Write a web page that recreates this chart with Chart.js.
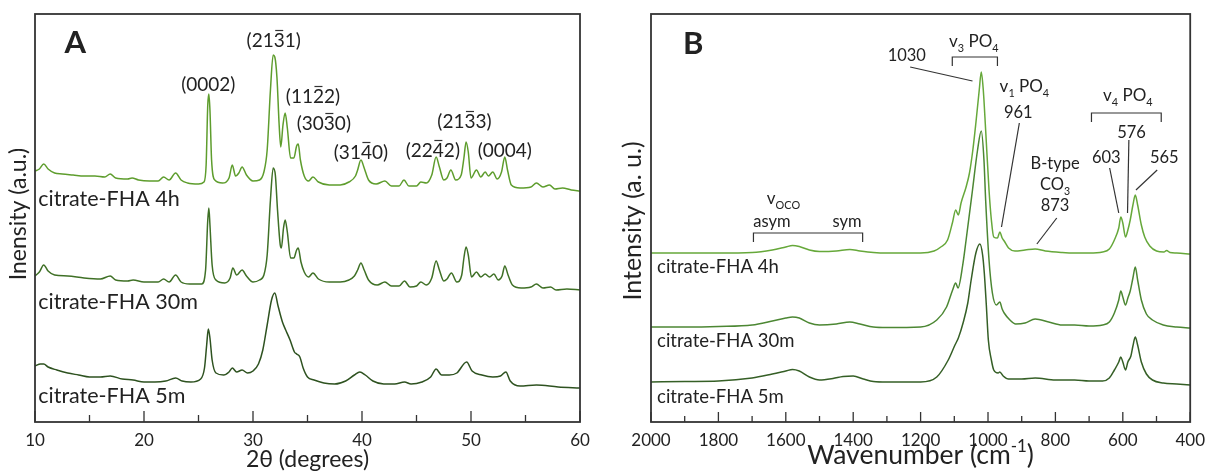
<!DOCTYPE html>
<html lang="en">
<head>
<meta charset="UTF-8">
<title>citrate-FHA XRD and FTIR</title>
<script src="https://cdn.jsdelivr.net/npm/chart.js"></script>
<style>
  body { margin: 0; background: #fff; }
  .wrap { position: relative; width: 1213px; height: 473px; }
  #xrd { position: absolute; left: 0; top: 0; }
  #ftir { position: absolute; left: 600px; top: 0; }
</style>
</head>
<body>
<div class="wrap">
  <canvas id="xrd" width="600" height="473"></canvas>
  <canvas id="ftir" width="613" height="473"></canvas>
</div>
<script>
// ---- panel A: XRD (2theta in degrees, intensity in a.u., traces offset) ----
const xrd4hAngle = [10.0, 10.4, 10.8, 11.2, 11.8, 12.5, 13.5, 14.5, 15.5, 16.4, 16.9, 17.4, 18.5, 18.9, 19.5, 20.5, 21.3, 21.8, 22.3, 22.9, 23.4, 24.0, 25.0, 25.5, 25.7, 25.85, 25.95, 26.05, 26.2, 26.5, 27.2, 27.8, 28.1, 28.4, 28.7, 29.0, 29.4, 30.0, 30.6, 31.0, 31.3, 31.6, 31.85, 32.0, 32.2, 32.4, 32.55, 32.75, 32.95, 33.15, 33.45, 33.75, 34.0, 34.15, 34.35, 34.7, 35.1, 35.5, 36.0, 37.0, 38.0, 38.8, 39.4, 39.6, 39.9, 40.2, 40.6, 41.3, 42.1, 42.7, 43.4, 43.85, 44.3, 45.0, 45.4, 45.9, 46.4, 46.8, 47.1, 47.5, 47.8, 48.15, 48.6, 49.1, 49.35, 49.55, 49.75, 50.0, 50.5, 50.9, 51.3, 51.6, 52.0, 52.4, 52.8, 53.1, 53.35, 53.7, 54.5, 55.5, 56.0, 56.6, 57.2, 57.7, 58.4, 59.2, 60.0];
const xrd4hCounts = [251, 253, 258, 253, 249, 248, 247, 246, 246, 245, 248, 244, 243, 244, 242, 241, 241, 245, 242, 249, 242, 239, 238, 240, 257, 317, 328, 312, 262, 242, 239, 244, 257, 246, 249, 255, 247, 241, 242, 250, 272, 332, 367, 365, 344, 297, 275, 297, 309, 294, 264, 264, 276, 278, 262, 246, 241, 245, 240, 237, 237, 240, 246, 252, 262, 254, 242, 238, 241, 236, 236, 242, 236, 236, 240, 239, 247, 265, 255, 242, 244, 252, 242, 247, 264, 280, 270, 244, 252, 245, 250, 246, 250, 243, 250, 265, 252, 237, 234, 235, 239, 235, 237, 233, 234, 232, 231];

const xrd30mAngle = [10.0, 10.4, 10.8, 11.2, 11.8, 13.0, 14.5, 16.0, 16.9, 17.4, 18.5, 19.0, 20.0, 21.3, 21.8, 22.3, 22.9, 23.4, 24.2, 25.3, 25.65, 25.85, 25.95, 26.05, 26.25, 26.6, 27.4, 27.9, 28.15, 28.5, 29.0, 29.4, 30.0, 30.6, 31.0, 31.3, 31.6, 31.85, 32.05, 32.25, 32.5, 32.6, 32.8, 32.95, 33.15, 33.45, 33.75, 34.0, 34.15, 34.4, 34.7, 35.1, 35.5, 36.0, 37.0, 38.0, 38.8, 39.3, 39.6, 39.9, 40.2, 40.6, 41.4, 42.1, 42.7, 43.4, 43.9, 44.4, 45.0, 45.4, 45.9, 46.4, 46.8, 47.1, 47.5, 47.8, 48.2, 48.7, 49.15, 49.35, 49.55, 49.75, 50.05, 50.5, 50.9, 51.3, 51.7, 52.1, 52.5, 52.85, 53.1, 53.4, 53.8, 54.6, 55.5, 56.0, 56.6, 57.3, 57.8, 58.8, 60.0];
const xrd30mCounts = [146, 150, 157, 151, 147, 146, 144, 143, 146, 142, 141, 142, 140, 140, 143, 140, 147, 140, 138, 138, 152, 202, 214, 197, 157, 142, 139, 144, 154, 147, 152, 146, 140, 142, 147, 167, 222, 254, 247, 212, 177, 174, 194, 202, 190, 164, 164, 172, 174, 160, 150, 145, 149, 143, 140, 140, 142, 146, 152, 159, 152, 142, 137, 140, 136, 136, 141, 135, 136, 140, 137, 144, 161, 152, 141, 143, 149, 140, 147, 164, 175, 167, 145, 150, 145, 148, 145, 148, 142, 146, 156, 147, 137, 134, 135, 138, 134, 135, 132, 133, 132];

const xrd5mAngle = [10.0, 10.5, 10.8, 11.2, 12.0, 13.0, 14.0, 15.0, 16.0, 16.9, 18.0, 19.0, 20.0, 21.0, 22.0, 22.9, 23.5, 24.3, 25.2, 25.55, 25.75, 25.9, 26.05, 26.25, 26.6, 27.3, 27.8, 28.1, 28.5, 29.0, 29.5, 30.0, 30.5, 30.9, 31.3, 31.7, 32.0, 32.3, 32.7, 33.0, 33.4, 33.8, 34.0, 34.3, 34.6, 35.0, 35.6, 36.5, 37.5, 38.5, 39.3, 39.8, 40.3, 41.0, 42.0, 43.0, 43.9, 44.5, 45.5, 46.3, 46.8, 47.3, 48.0, 48.7, 49.6, 50.1, 51.0, 52.0, 52.7, 53.2, 53.6, 54.5, 56.0, 58.0, 60.0];
const xrd5mCounts = [56, 58, 58, 55, 52, 49, 47, 45, 45, 46, 43, 42, 40, 40, 41, 44, 41, 40, 43, 54, 77, 93, 84, 62, 49, 47, 50, 54, 50, 52, 49, 51, 58, 72, 97, 122, 129, 116, 100, 92, 82, 70, 68, 65, 54, 45, 42, 39, 38, 41, 47, 50, 47, 41, 38, 38, 40, 38, 40, 45, 53, 47, 47, 49, 60, 51, 47, 45, 46, 50, 41, 36, 37, 35, 34];

const xrdTicks = [10, 20, 30, 40, 50, 60];
const xrdMinorTicks = [15, 25, 35, 45, 55];

// ---- panel B: FTIR (wavenumber in cm-1, intensity in a.u., traces offset) ----
const ftir4hWave = [2000, 1900, 1800, 1700, 1640, 1600, 1580, 1560, 1530, 1500, 1450, 1410, 1380, 1340, 1300, 1200, 1160, 1140, 1120, 1105, 1096, 1088, 1080, 1065, 1055, 1045, 1036, 1026, 1020, 1014, 1007, 997, 990, 983, 972, 965, 958, 952, 939, 920, 890, 860, 830, 780, 743, 700, 660, 640, 625, 612, 606, 600, 592, 585, 578, 570, 563, 556, 545, 535, 520, 500, 478, 470, 460, 440, 400];
const ftir4hAbs = [169, 169, 169, 169.5, 172, 175, 176.5, 175.5, 172, 170.5, 171, 172.5, 171, 169.5, 169, 169, 171, 175, 182, 200, 212, 207, 219, 235, 249, 272, 299, 332, 350, 332, 292, 232, 202, 185, 184, 190, 184, 181, 174, 171, 172, 173, 171, 169.5, 169, 169, 170, 173, 182, 194, 205, 199, 185, 192, 202, 217, 227, 217, 197, 185, 176, 171, 170, 171.5, 169.5, 169, 168];

const ftir30mWave = [2000, 1900, 1800, 1700, 1640, 1600, 1580, 1560, 1530, 1500, 1450, 1410, 1380, 1340, 1300, 1200, 1152, 1123, 1105, 1096, 1089, 1075, 1065, 1046, 1031, 1020, 1012, 1007, 997, 987, 975, 965, 958, 952, 935, 918, 890, 860, 820, 780, 743, 700, 660, 640, 625, 612, 606, 600, 592, 585, 578, 570, 563, 556, 545, 530, 512, 480, 440, 400];
const ftir30mAbs = [95, 95, 95.5, 97, 101, 104, 105, 104, 99, 97, 98, 100, 98, 95, 94.5, 95, 102, 115, 132, 139, 134, 157, 182, 232, 272, 291, 262, 222, 162, 129, 117, 120, 113, 109, 102, 98, 99, 103, 100, 97, 97, 96, 97, 100, 109, 122, 131, 125, 117, 124, 131, 144, 155, 142, 122, 108, 102, 97, 95, 94];

const ftir5mWave = [2000, 1900, 1800, 1700, 1640, 1600, 1580, 1560, 1530, 1500, 1460, 1430, 1400, 1370, 1340, 1300, 1200, 1152, 1118, 1098, 1088, 1074, 1060, 1050, 1036, 1024, 1016, 1011, 1005, 999, 990, 983, 970, 965, 955, 939, 900, 860, 800, 743, 700, 660, 640, 625, 612, 606, 600, 592, 585, 576, 570, 563, 556, 545, 530, 512, 480, 440, 400];
const ftir5mAbs = [40, 40.5, 41, 44, 48, 51, 52.5, 51, 45, 42, 43.5, 45.5, 46, 43, 40.5, 40, 40, 45, 62, 77, 84, 99, 119, 142, 169, 178, 167, 149, 117, 82, 62, 52, 49, 50, 46, 43, 43, 44, 42, 42, 41, 41, 44, 52, 60, 65, 60, 52, 60, 66, 76, 85, 77, 60, 48, 42, 39, 38, 37];

const ftirTicks = [2000, 1800, 1600, 1400, 1200, 1000, 800, 600, 400];
const ftirMinorTicks = [1900, 1700, 1500, 1300, 1100, 900, 700, 500];

const FONT = 'Lato, "DejaVu Sans", sans-serif';
const INK = '#222';

function pts(xs, ys) {
  return xs.map((x, i) => ({ x: x, y: ys[i] }));
}

// text with optional subscript / superscript / overbar pieces
function drawRich(ctx, segs, x, cy, size, align, weight) {
  const small = size * 0.64;
  let w = 0;
  const parts = segs.map(([t, k]) => {
    const fs = (k === 'sub' || k === 'sup') ? small : size;
    ctx.font = (weight || '') + ' ' + fs + 'px ' + FONT;
    const pw = ctx.measureText(t).width;
    w += pw;
    return { t, k, fs, pw };
  });
  let px = align === 'left' ? x : x - w / 2;
  const base = cy + size * 0.36;
  ctx.textAlign = 'left';
  ctx.textBaseline = 'alphabetic';
  parts.forEach(p => {
    ctx.font = (weight || '') + ' ' + p.fs + 'px ' + FONT;
    let by = base;
    if (p.k === 'sub') by = base + size * 0.3;
    if (p.k === 'sup') by = base - size * 0.42;
    ctx.fillText(p.t, px, by);
    if (p.k === 'bar') {
      const ly = base - size * 0.86;
      ctx.beginPath();
      ctx.moveTo(px + 1.5, ly);
      ctx.lineTo(px + p.pw - 1.5, ly);
      ctx.lineWidth = 1.2;
      ctx.stroke();
    }
    px += p.pw;
  });
}

function panelPlugin(cfg) {
  return {
    id: 'panel',
    afterDraw(chart) {
      const { ctx, chartArea: a, scales } = chart;
      const sx = scales.x, sy = scales.y;
      const X = v => sx.getPixelForValue(v);
      const Y = v => sy.getPixelForValue(v);
      ctx.save();
      ctx.fillStyle = INK;
      ctx.strokeStyle = '#333';

      // frame
      ctx.lineWidth = 1.8;
      ctx.strokeRect(a.left, a.top, a.right - a.left, a.bottom - a.top);

      // inward tick marks
      ctx.lineWidth = 1.3;
      ctx.beginPath();
      cfg.major.forEach(v => { ctx.moveTo(X(v), a.bottom); ctx.lineTo(X(v), a.bottom - cfg.majorLen); });
      cfg.minor.forEach(v => { ctx.moveTo(X(v), a.bottom); ctx.lineTo(X(v), a.bottom - cfg.minorLen); });
      ctx.stroke();

      // leader lines and brackets
      ctx.lineWidth = 1.2;
      cfg.lines.forEach(l => {
        ctx.beginPath();
        ctx.moveTo(X(l[0][0]), Y(l[0][1]));
        for (let i = 1; i < l.length; i++) ctx.lineTo(X(l[i][0]), Y(l[i][1]));
        ctx.stroke();
      });

      // text labels
      cfg.labels.forEach(t => {
        drawRich(ctx, t.segs, X(t.x), Y(t.y), t.size, t.align, t.weight);
      });

      // axis titles
      drawRich(ctx, cfg.xTitle, (a.left + a.right) / 2, cfg.xTitleY, cfg.xTitleSize, 'center');
      ctx.save();
      ctx.translate(cfg.yTitleX, (a.top + a.bottom) / 2 + cfg.yTitleShift);
      ctx.rotate(-Math.PI / 2);
      drawRich(ctx, cfg.yTitle, 0, 0, cfg.yTitleSize, 'center');
      ctx.restore();

      ctx.restore();
    }
  };
}

function baseOptions(xOpts, leftW, rightPad) {
  return {
    responsive: false,
    animation: false,
    layout: { padding: { left: 0, right: rightPad, top: 14, bottom: 0 } },
    plugins: { legend: { display: false }, tooltip: { enabled: false } },
    elements: { point: { radius: 0 }, line: { borderWidth: 1.5, cubicInterpolationMode: 'monotone' } },
    scales: {
      x: Object.assign({
        type: 'linear',
        grid: { display: false, drawTicks: false },
        border: { display: false },
        afterFit: s => { s.height = 51; }
      }, xOpts),
      y: {
        min: 0, max: 408,
        grid: { display: false },
        border: { display: false },
        ticks: { display: false },
        afterFit: s => { s.width = leftW; }
      }
    }
  };
}

const tickFont = { family: FONT, size: 17 };

// ---- chart A ----
const xrdOpts = baseOptions({
  min: 10, max: 60,
  afterBuildTicks: s => { s.ticks = xrdTicks.map(v => ({ value: v })); },
  ticks: { font: tickFont, color: INK, padding: 8, callback: v => String(v) }
}, 35, 20);

new Chart(document.getElementById('xrd'), {
  type: 'line',
  data: {
    datasets: [
      { label: 'citrate-FHA 4h', data: pts(xrd4hAngle, xrd4hCounts), borderColor: '#5e9d2d' },
      { label: 'citrate-FHA 30m', data: pts(xrd30mAngle, xrd30mCounts), borderColor: '#3f7026' },
      { label: 'citrate-FHA 5m', data: pts(xrd5mAngle, xrd5mCounts), borderColor: '#2e5220' }
    ]
  },
  options: xrdOpts,
  plugins: [panelPlugin({
    major: xrdTicks, minor: xrdMinorTicks, majorLen: 11, minorLen: 7,
    xTitle: [['2θ (degrees)', '']], xTitleY: 459, xTitleSize: 23,
    yTitle: [['Inensity (a.u.)', '']], yTitleX: 18, yTitleShift: -4, yTitleSize: 23,
    lines: [],
    labels: [
      { segs: [['A', '']], x: 13.7, y: 380, size: 31, align: 'center', weight: 'bold' },
      { segs: [['citrate-FHA 4h', '']], x: 10.3, y: 224, size: 21.5, align: 'left' },
      { segs: [['citrate-FHA 30m', '']], x: 10.3, y: 121, size: 21.5, align: 'left' },
      { segs: [['citrate-FHA 5m', '']], x: 10.3, y: 27, size: 21.5, align: 'left' },
      { segs: [['(0002)', '']], x: 25.9, y: 338, size: 19, align: 'center' },
      { segs: [['(21', ''], ['3', 'bar'], ['1)', '']], x: 31.9, y: 382, size: 19, align: 'center' },
      { segs: [['(11', ''], ['2', 'bar'], ['2)', '']], x: 35.5, y: 326, size: 19, align: 'center' },
      { segs: [['(30', ''], ['3', 'bar'], ['0)', '']], x: 36.5, y: 299, size: 19, align: 'center' },
      { segs: [['(31', ''], ['4', 'bar'], ['0)', '']], x: 39.9, y: 270, size: 19, align: 'center' },
      { segs: [['(22', ''], ['4', 'bar'], ['2)', '']], x: 46.5, y: 272, size: 19, align: 'center' },
      { segs: [['(21', ''], ['3', 'bar'], ['3)', '']], x: 49.4, y: 301, size: 19, align: 'center' },
      { segs: [['(0004)', '']], x: 53.1, y: 272, size: 19, align: 'center' }
    ]
  })]
});

// ---- chart B ----
const ftirOpts = baseOptions({
  min: 400, max: 2000, reverse: true,
  afterBuildTicks: s => { s.ticks = ftirTicks.map(v => ({ value: v })); },
  ticks: { font: tickFont, color: INK, padding: 8, callback: v => String(v) }
}, 51, 16);

new Chart(document.getElementById('ftir'), {
  type: 'line',
  data: {
    datasets: [
      { label: 'citrate-FHA 4h', data: pts(ftir4hWave, ftir4hAbs), borderColor: '#66a83a' },
      { label: 'citrate-FHA 30m', data: pts(ftir30mWave, ftir30mAbs), borderColor: '#4c8733' },
      { label: 'citrate-FHA 5m', data: pts(ftir5mWave, ftir5mAbs), borderColor: '#355f26' }
    ]
  },
  options: ftirOpts,
  plugins: [panelPlugin({
    major: ftirTicks, minor: ftirMinorTicks, majorLen: 10, minorLen: 6,
    xTitle: [['Wavenumber (cm', ''], ['-1', 'sup'], [')', '']], xTitleY: 454, xTitleSize: 26.5,
    yTitle: [['Intensity (a. u.)', '']], yTitleX: 32, yTitleShift: 3, yTitleSize: 25,
    lines: [
      [[1231, 355], [1046, 341]],
      [[1106, 356], [1106, 365], [972, 365], [972, 356]],
      [[907, 299], [960, 195]],
      [[796, 204], [855, 178]],
      [[693, 300], [693, 309], [486, 309], [486, 300]],
      [[582, 282], [586, 209]],
      [[639, 254], [612, 209]],
      [[498, 252], [561, 232]],
      [[1696, 180], [1696, 189], [1372, 189], [1372, 180]]
    ],
    labels: [
      { segs: [['B', '']], x: 1875, y: 379, size: 31, align: 'center', weight: 'bold' },
      { segs: [['citrate-FHA 4h', '']], x: 1982, y: 156, size: 18.5, align: 'left' },
      { segs: [['citrate-FHA 30m', '']], x: 1982, y: 82, size: 18.5, align: 'left' },
      { segs: [['citrate-FHA 5m', '']], x: 1982, y: 26, size: 18.5, align: 'left' },
      { segs: [['1030', '']], x: 1241, y: 367, size: 16.5, align: 'center' },
      { segs: [['v', ''], ['3', 'sub'], [' PO', ''], ['4', 'sub']], x: 1042, y: 381, size: 17, align: 'center' },
      { segs: [['v', ''], ['1', 'sub'], [' PO', ''], ['4', 'sub']], x: 892, y: 336, size: 17, align: 'center' },
      { segs: [['961', '']], x: 910, y: 310, size: 16.5, align: 'center' },
      { segs: [['B-type', '']], x: 801, y: 259, size: 16.5, align: 'center' },
      { segs: [['CO', ''], ['3', 'sub']], x: 801, y: 238, size: 16.5, align: 'center' },
      { segs: [['873', '']], x: 801, y: 217, size: 16.5, align: 'center' },
      { segs: [['v', ''], ['4', 'sub'], [' PO', ''], ['4', 'sub']], x: 585, y: 327, size: 17, align: 'center' },
      { segs: [['576', '']], x: 574, y: 290, size: 16.5, align: 'center' },
      { segs: [['603', '']], x: 649, y: 265, size: 16.5, align: 'center' },
      { segs: [['565', '']], x: 477, y: 265, size: 16.5, align: 'center' },
      { segs: [['v', ''], ['OCO', 'sub']], x: 1607, y: 224, size: 17, align: 'center' },
      { segs: [['asym', '']], x: 1641, y: 201, size: 16.5, align: 'center' },
      { segs: [['sym', '']], x: 1418, y: 201, size: 16.5, align: 'center' }
    ]
  })]
});
</script>
</body>
</html>
